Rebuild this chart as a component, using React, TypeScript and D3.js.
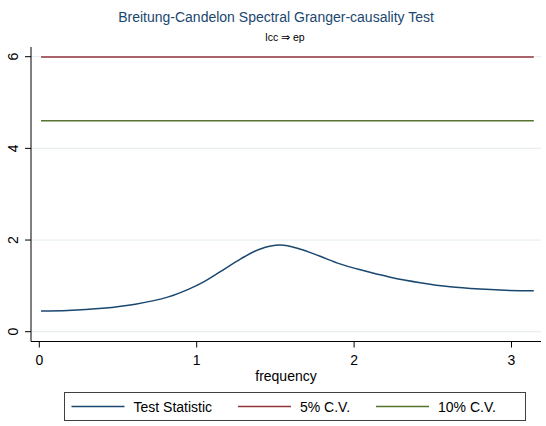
import React from "react";
import * as d3 from "d3";

const freq = [0.011, 0.18, 0.40, 0.61, 0.82, 0.95, 1.05, 1.15, 1.28, 1.40, 1.53, 1.66, 1.78, 1.91, 2.04, 2.23, 2.42, 2.61, 2.80, 2.99, 3.1416];
const testStat = [0.45, 0.46, 0.51, 0.60, 0.76, 0.93, 1.10, 1.31, 1.59, 1.80, 1.89, 1.80, 1.65, 1.48, 1.35, 1.19, 1.07, 0.98, 0.93, 0.90, 0.895];
const cv5 = 5.991;
const cv10 = 4.605;
const xTicks = [0, 1, 2, 3];
const yTicks = [0, 2, 4, 6];
const legendLabels = ["Test Statistic", "5% C.V.", "10% C.V."];

const W = 546, H = 426;
const FONT = "'Liberation Sans', Arial, sans-serif";
const NAVY = "#1a476f", MAROON = "#90353b", GREEN = "#55752f";

export default function App() {
  const x = d3.scaleLinear().domain([0, 3]).range([39.3, 511.5]);
  const y = d3.scaleLinear().domain([0, 6]).range([331.7, 56.7]);
  const plotL = 31, plotR = 541, plotT = 47, plotB = 341.5;
  const pts = freq.map((f, i) => [f, testStat[i]] as [number, number]);
  const line = d3.line<[number, number]>().x(d => x(d[0])).y(d => y(d[1])).curve(d3.curveCatmullRom.alpha(0.5));
  const f0 = freq[0], f1 = freq[freq.length - 1];
  const legendColors = [NAVY, MAROON, GREEN];
  const legendX = [71.5, 238, 376];
  return (
    <svg width={W} height={H} style={{ display: "block", position: "absolute", left: 0, top: 0, background: "#fff" }} fontFamily={FONT}>
      <rect width={W} height={H} fill="#fff" />
      <text x={276} y={22} textAnchor="middle" fontSize={14} fill={NAVY}>Breitung-Candelon Spectral Granger-causality Test</text>
      <text x={285} y={41} textAnchor="middle" fontSize={10.5} fill="#000">lcc ⇒ ep</text>
      {yTicks.map(t => (
        <line key={"g" + t} x1={plotL} x2={plotR} y1={y(t)} y2={y(t)} stroke="#eaf0f2" strokeWidth={1.2} />
      ))}
      <line x1={x(f0)} x2={x(f1)} y1={y(cv5)} y2={y(cv5)} stroke={MAROON} strokeWidth={1.5} />
      <line x1={x(f0)} x2={x(f1)} y1={y(cv10)} y2={y(cv10)} stroke={GREEN} strokeWidth={1.5} />
      <path d={line(pts) || ""} fill="none" stroke={NAVY} strokeWidth={1.5} />
      <line x1={plotL} x2={plotL} y1={plotT} y2={plotB} stroke="#000" strokeWidth={1} />
      <line x1={plotL} x2={plotR} y1={plotB} y2={plotB} stroke="#000" strokeWidth={1} />
      {yTicks.map(t => (
        <g key={"y" + t}>
          <line x1={plotL - 6} x2={plotL} y1={y(t)} y2={y(t)} stroke="#000" />
          <text transform={`translate(${17.5},${y(t)}) rotate(-90)`} textAnchor="middle" fontSize={14} fill="#000">{t}</text>
        </g>
      ))}
      {xTicks.map(t => (
        <g key={"x" + t}>
          <line x1={x(t)} x2={x(t)} y1={plotB} y2={plotB + 6} stroke="#000" />
          <text x={x(t)} y={365} textAnchor="middle" fontSize={14} fill="#000">{t}</text>
        </g>
      ))}
      <text x={286} y={381} textAnchor="middle" fontSize={14} fill="#000">frequency</text>
      <rect x={64.5} y={392.5} width={461} height={28} fill="#fff" stroke="#404040" strokeWidth={1} />
      {legendLabels.map((lab, i) => (
        <g key={lab}>
          <line x1={legendX[i]} x2={legendX[i] + 53} y1={406.5} y2={406.5} stroke={legendColors[i]} strokeWidth={1.5} />
          <text x={legendX[i] + 62} y={411.5} fontSize={14} fill="#000">{lab}</text>
        </g>
      ))}
    </svg>
  );
}
